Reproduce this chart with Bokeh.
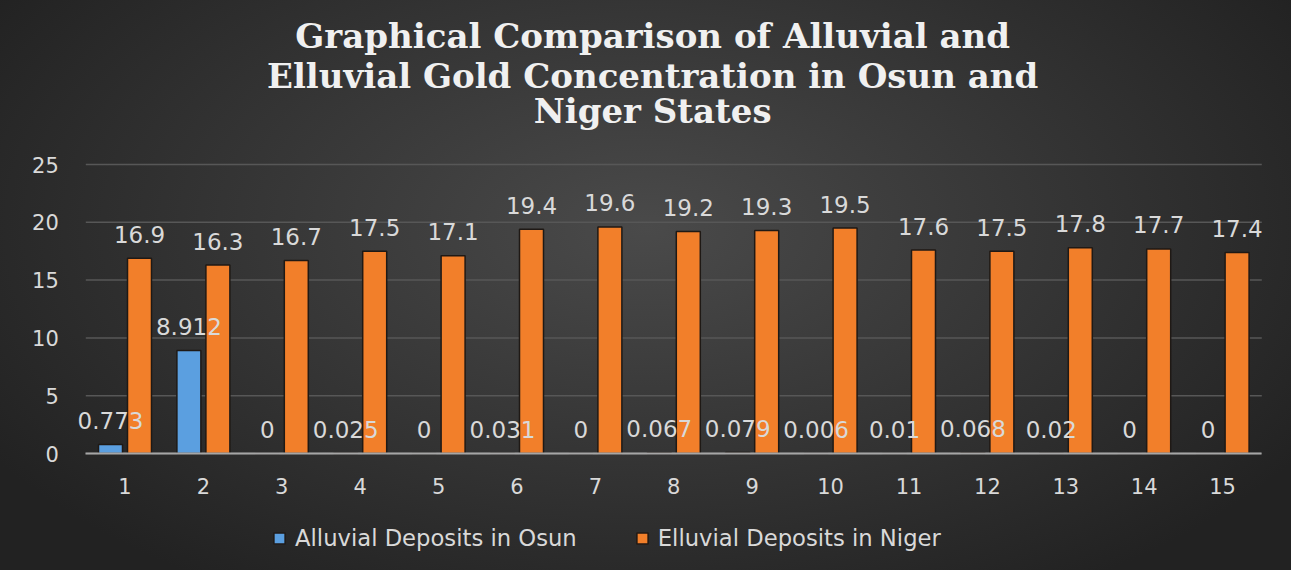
from bokeh.plotting import figure
from bokeh.models import (ColumnDataSource, Range1d, FixedTicker, LabelSet, Label, LinearAxis,
                          Legend, LegendItem)
from bokeh.core.properties import value
from bokeh.transform import dodge
from bokeh.embed import file_html
from bokeh.resources import INLINE

# ---- data ----
categories = [1, 2, 3, 4, 5, 6, 7, 8, 9, 10, 11, 12, 13, 14, 15]
osun_alluvial = [0.773, 8.912, 0, 0.025, 0, 0.031, 0, 0.067, 0.079, 0.006, 0.01, 0.068, 0.02, 0, 0]
osun_labels = ["0.773", "8.912", "0", "0.025", "0", "0.031", "0", "0.067", "0.079", "0.006",
               "0.01", "0.068", "0.02", "0", "0"]
niger_elluvial = [16.9, 16.3, 16.7, 17.5, 17.1, 19.4, 19.6, 19.2, 19.3, 19.5, 17.6, 17.5, 17.8, 17.7, 17.4]
niger_labels = ["16.9", "16.3", "16.7", "17.5", "17.1", "19.4", "19.6", "19.2", "19.3", "19.5",
                "17.6", "17.5", "17.8", "17.7", "17.4"]
series_names = ["Alluvial Deposits in Osun", "Elluvial Deposits in Niger"]
title_lines = ["Graphical Comparison of Alluvial and",
               "Elluvial Gold Concentration in Osun and",
               "Niger States"]
y_ticks = [0, 5, 10, 15, 20, 25]

BLUE = "#5b9fe0"
ORANGE = "#f27f2a"
EDGE = "#1f1915"
TXT = "#d9d9d9"
FONT = "DejaVu Sans"

src = ColumnDataSource(dict(x=categories, osun=osun_alluvial, niger=niger_elluvial,
                            osun_lbl=osun_labels, niger_lbl=niger_labels))

x_lo, x_hi = 0.5, 15.5          # category band extent
# the frame fills the whole figure; axes are pinned inside it
p = figure(width=1291, height=570, output_backend="svg", toolbar_location=None,
           x_range=Range1d(-0.588, 15.879), y_range=Range1d(-10.12, 39.19),
           x_axis_location=None, y_axis_location=None,
           min_border_left=0, min_border_right=0, min_border_top=0, min_border_bottom=0)

p.styles = {"background": "radial-gradient(ellipse 60% 75% at 50% 40%, #4a4a4a 0%, #383838 45%, #2a2a2a 80%, #222222 100%)"}
p.border_fill_alpha = 0
p.background_fill_alpha = 0
p.outline_line_color = None
p.xgrid.grid_line_color = None
p.ygrid.grid_line_color = None

# horizontal gridlines at the y ticks, across the category band
p.segment(x0=x_lo, x1=x_hi, y0=y_ticks, y1=y_ticks, line_color="#575757", line_width=1.5)

r_blue = p.vbar(x=dodge("x", -0.185, range=p.x_range), top="osun", width=0.306, source=src,
                fill_color=BLUE, line_color=EDGE, line_width=1.5)
r_orange = p.vbar(x=dodge("x", 0.185, range=p.x_range), top="niger", width=0.306, source=src,
                  fill_color=ORANGE, line_color=EDGE, line_width=1.5)

for col, lbl, off in [("osun", "osun_lbl", -0.185), ("niger", "niger_lbl", 0.185)]:
    p.add_layout(LabelSet(x=dodge("x", off, range=p.x_range), y=col, text=lbl, source=src,
                          y_offset=24, text_align="center", text_baseline="middle",
                          text_color=TXT, text_font=value(FONT), text_font_size=value("23px")))

# x axis fixed at y = 0
xaxis = LinearAxis(fixed_location=0, ticker=FixedTicker(ticks=categories), bounds=(x_lo, x_hi))
xaxis.axis_line_color = "#a6a6a6"
xaxis.axis_line_width = 2
xaxis.major_tick_line_color = None
xaxis.minor_tick_line_color = None
xaxis.major_label_standoff = 18
xaxis.major_label_text_color = TXT
xaxis.major_label_text_font = FONT
xaxis.major_label_text_font_size = "21px"
p.add_layout(xaxis, "below")

# y axis fixed at the left edge of the category band
yaxis = LinearAxis(fixed_location=x_lo, ticker=FixedTicker(ticks=y_ticks))
yaxis.axis_line_color = None
yaxis.major_tick_line_color = None
yaxis.minor_tick_line_color = None
yaxis.major_label_standoff = 21
yaxis.major_label_text_color = TXT
yaxis.major_label_text_font = FONT
yaxis.major_label_text_font_size = "21px"
p.add_layout(yaxis, "left")

# title lines
for line, yy in zip(title_lines, [36.15, 32.7, 29.6]):
    p.add_layout(Label(x=7.73, y=yy, text=line, text_align="center", text_baseline="alphabetic",
                       text_color="#f0f0f0", text_font="DejaVu Serif", text_font_style="bold",
                       text_font_size="34px"))

legend = Legend(items=[LegendItem(label=series_names[0], renderers=[r_blue]),
                       LegendItem(label=series_names[1], renderers=[r_orange])],
                orientation="horizontal", location=(272, 19),
                padding=0, margin=0, spacing=58, label_standoff=9,
                glyph_width=14, glyph_height=14,
                border_line_color=None, background_fill_alpha=0,
                label_text_color=TXT, label_text_font=FONT, label_text_font_size="22.7px")
p.add_layout(legend)

open("out.html", "w").write(file_html(p, INLINE))
